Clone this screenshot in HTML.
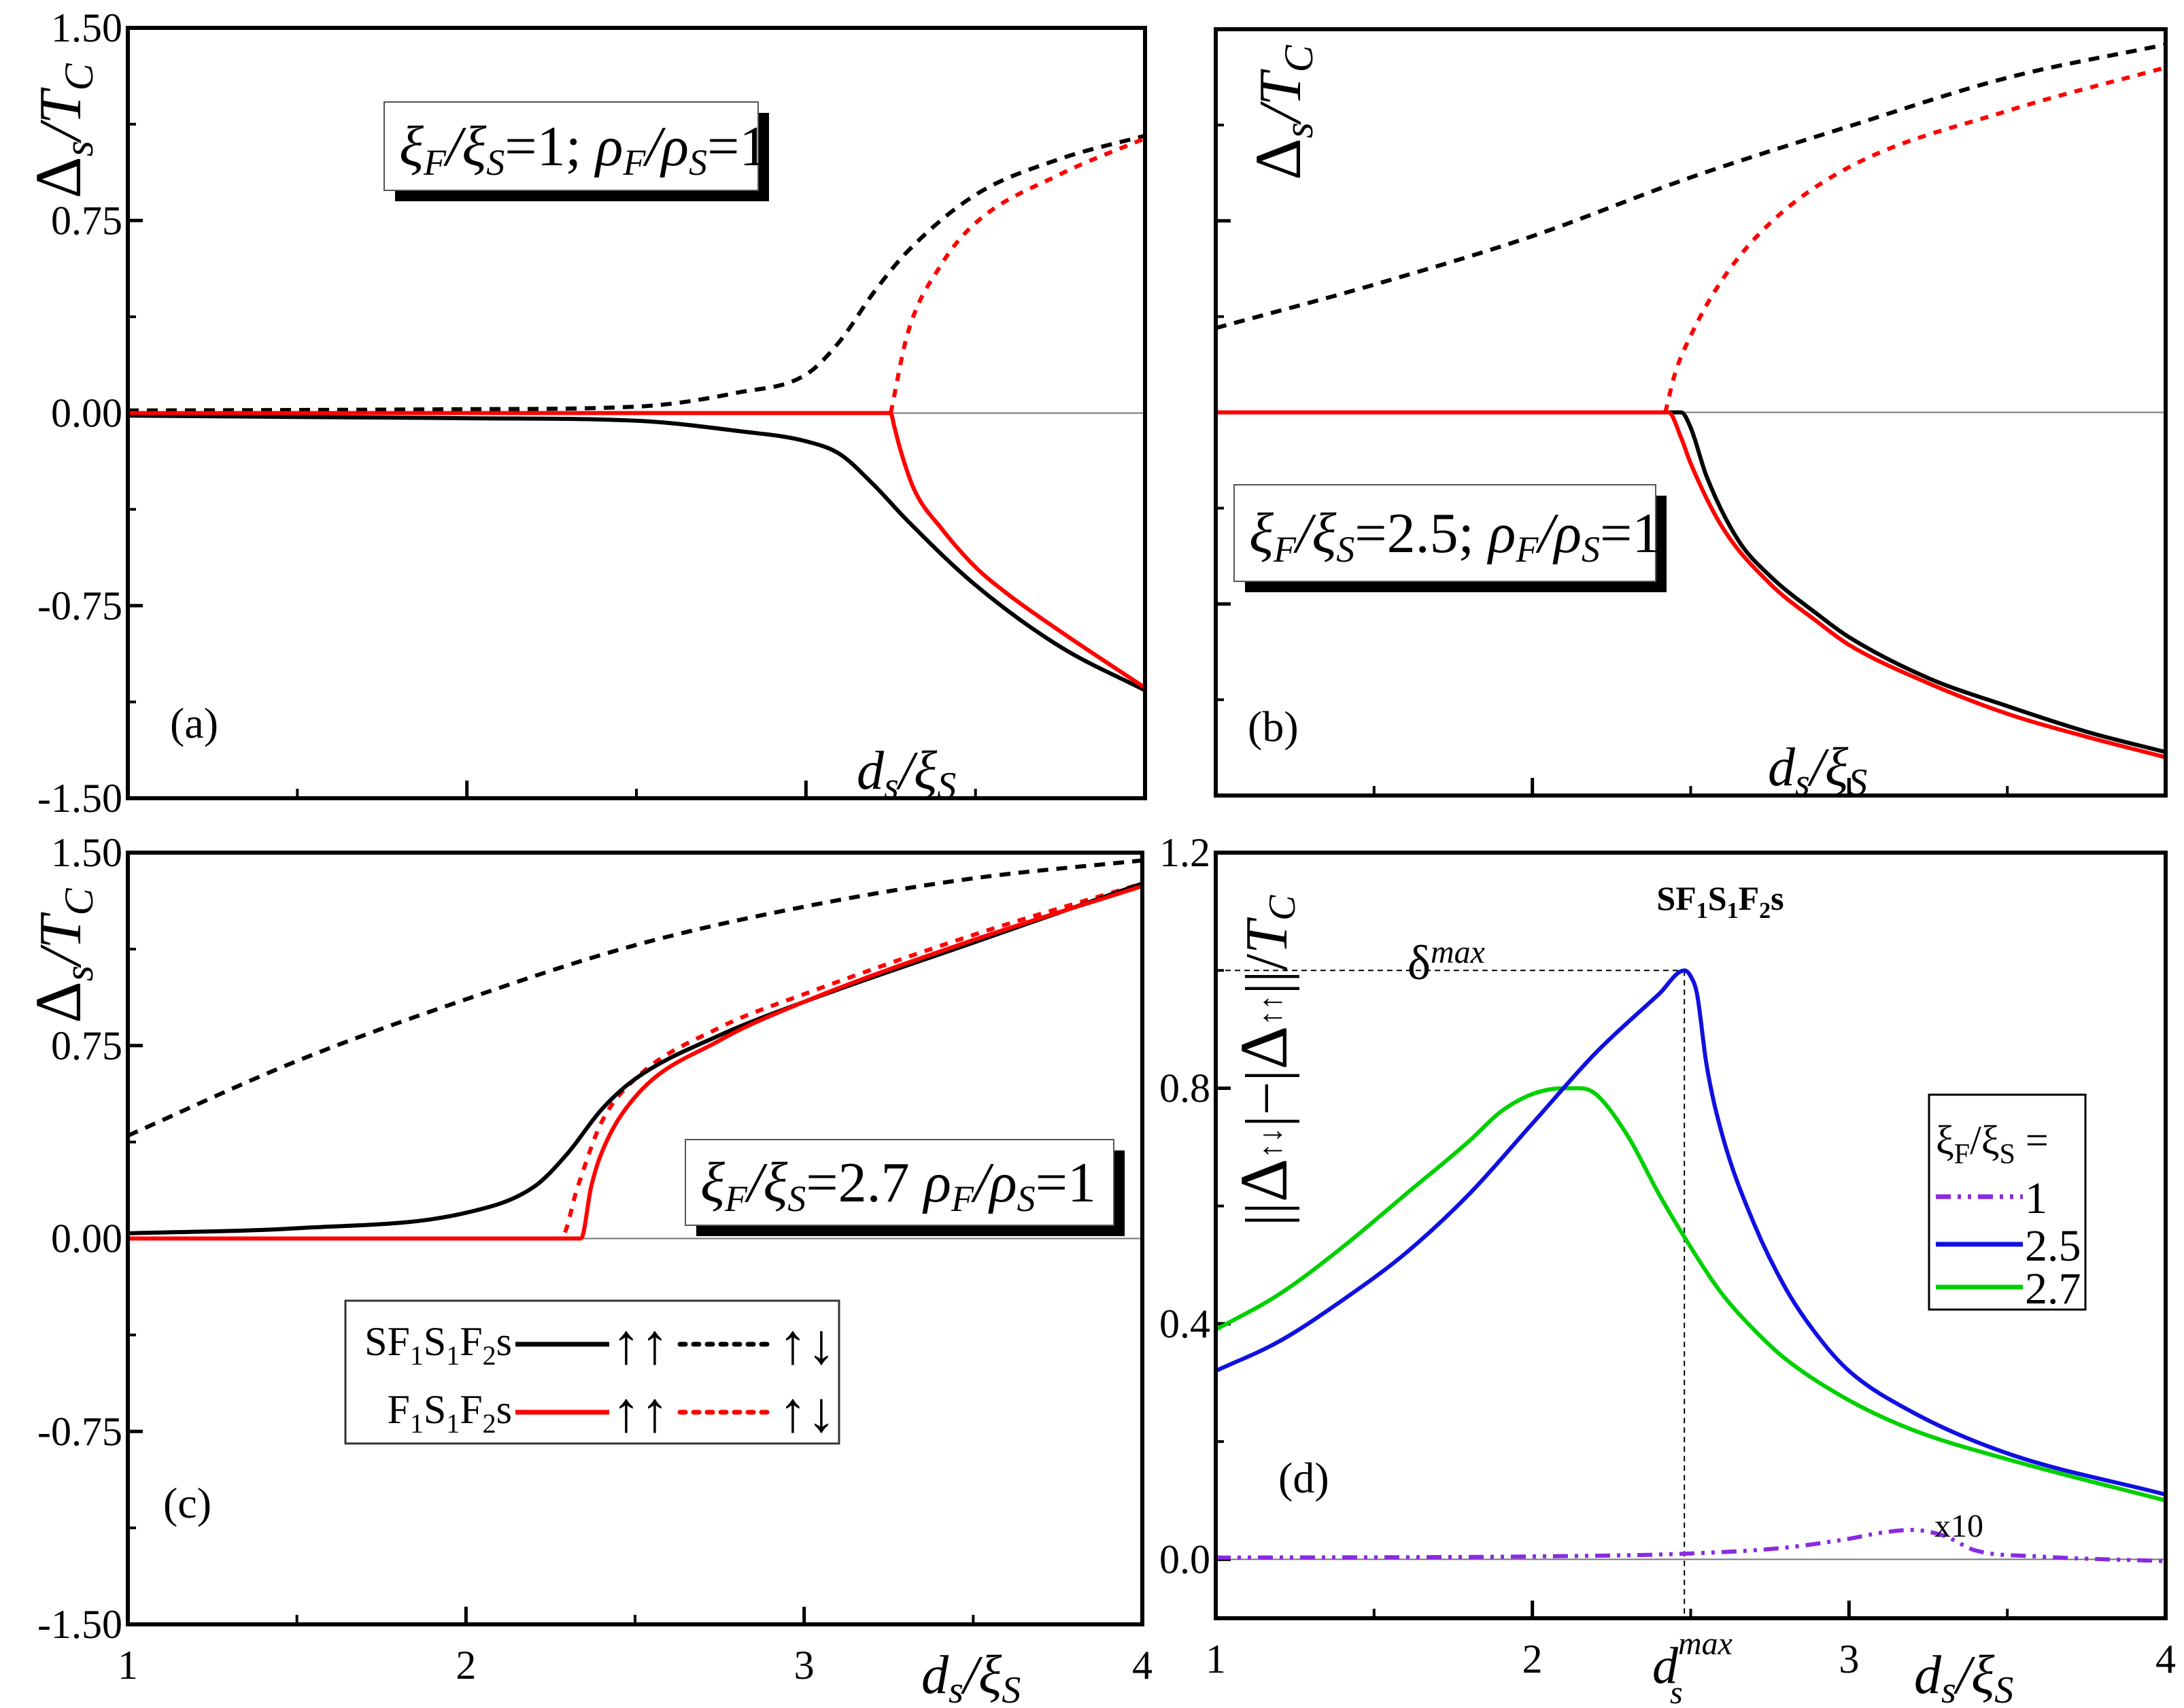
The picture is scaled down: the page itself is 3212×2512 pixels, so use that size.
<!DOCTYPE html>
<html><head><meta charset="utf-8"><style>
html,body{margin:0;padding:0;background:#fff}
svg{display:block}
text{font-family:"Liberation Serif",serif}
</style></head><body>
<svg id="fig" width="3212" height="2512" viewBox="0 0 3212 2512" xmlns="http://www.w3.org/2000/svg">
</svg>
<script>
// ---------- data ----------
const aX_dash_blk=[1,1.5,2,2.5,2.8,3.0,3.1,3.2,3.3,3.5,3.75,4];
const aY_dash_blk=[0.01,0.012,0.015,0.025,0.08,0.15,0.28,0.47,0.63,0.85,0.99,1.08];
const aX_dash_red=[3.25,3.3,3.4,3.5,3.75,4];
const aY_dash_red=[0,0.31,0.58,0.74,0.93,1.07];
const aX_sol_blk=[1,1.5,2,2.5,2.8,3.0,3.1,3.2,3.3,3.5,3.75,4];
const aY_sol_blk=[-0.01,-0.015,-0.02,-0.03,-0.07,-0.11,-0.16,-0.28,-0.42,-0.67,-0.91,-1.08];
const aX_sol_red=[1,3.25,3.26,3.28,3.32,3.4,3.5,3.6,3.75,4];
const aY_sol_red=[0,0,-0.05,-0.15,-0.3,-0.45,-0.6,-0.71,-0.85,-1.07];

const bX_dash_blk=[1,1.5,2,2.5,3,3.5,4];
const bY_dash_blk=[0.33,0.5,0.69,0.92,1.12,1.31,1.44];
const bX_dash_red=[2.42,2.45,2.5,2.6,2.75,3,3.5,4];
const bY_dash_red=[0,0.15,0.3,0.52,0.74,0.96,1.18,1.35];
const bX_sol_blk=[1,2.47,2.5,2.55,2.65,2.75,2.9,3,3.25,3.5,3.75,4];
const bY_sol_blk=[0,0,-0.06,-0.25,-0.5,-0.64,-0.79,-0.88,-1.04,-1.15,-1.25,-1.33];
const bX_sol_red=[1,2.43,2.47,2.5,2.6,2.75,2.9,3,3.25,3.5,3.75,4];
const bY_sol_red=[0,0,-0.1,-0.2,-0.45,-0.67,-0.82,-0.91,-1.06,-1.18,-1.27,-1.35];

const cX_dash_blk=[1,1.5,2,2.5,3,3.5,4];
const cY_dash_blk=[0.4,0.69,0.93,1.14,1.29,1.4,1.47];
const cX_sol_blk=[1,1.5,2,2.2,2.3,2.4,2.5,2.75,3,3.5,4];
const cY_sol_blk=[0.02,0.04,0.1,0.2,0.33,0.5,0.62,0.79,0.92,1.15,1.38];
const cX_dash_red=[1,2.28,2.33,2.4,2.5,2.75,3,3.5,4];
const cY_dash_red=[0,0,0.2,0.45,0.62,0.82,0.95,1.18,1.38];
const cX_sol_red=[1,2.34,2.37,2.4,2.5,2.75,3,3.5,4];
const cY_sol_red=[0,0,0.2,0.33,0.55,0.77,0.92,1.16,1.37];

const dX_blue=[1,1.2,1.4,1.6,1.8,2,2.2,2.4,2.48,2.5,2.52,2.55,2.6,2.7,2.8,2.9,3,3.2,3.5,4];
const dY_blue=[0.32,0.37,0.44,0.52,0.62,0.74,0.86,0.96,1.0,0.99,0.96,0.84,0.72,0.57,0.46,0.38,0.32,0.25,0.18,0.11];
const dX_green=[1,1.2,1.4,1.6,1.8,1.9,2,2.1,2.15,2.2,2.3,2.4,2.5,2.6,2.7,2.8,3,3.2,3.5,4];
const dY_green=[0.39,0.45,0.53,0.62,0.71,0.76,0.79,0.8,0.8,0.79,0.72,0.62,0.53,0.45,0.39,0.34,0.27,0.22,0.17,0.10];
const dX_purple=[1,2,2.5,2.8,3,3.1,3.2,3.3,3.4,3.6,4];
const dY_purple=[0.003,0.005,0.01,0.02,0.035,0.045,0.05,0.04,0.015,0.005,-0.003];
const dPeakX=[2.48];
const dPeakY=[1.0];

const ticksA=["1.50","0.75","0.00","-0.75","-1.50"];
const ticksAval=[1.5,0.75,0,-0.75,-1.5];
const ticksD=["1.2","0.8","0.4","0.0"];
const ticksDval=[1.2,0.8,0.4,0];
const ticksX=["1","2","3","4"];
const ticksXval=[1,2,3,4];

// ---------- helpers ----------
const NS="http://www.w3.org/2000/svg";
const svg=document.getElementById('fig');
function mk(tag,attrs,parent){const e=document.createElementNS(NS,tag);for(const k in attrs)e.setAttribute(k,attrs[k]);(parent||svg).appendChild(e);return e;}
function panel(x0,x1,y0,y1,ymin,ymax){return {x0,x1,y0,y1,sx:v=>x0+(v-1)/3*(x1-x0),sy:v=>y1-(v-ymin)/(ymax-ymin)*(y1-y0)};}
function monoPath(X,Y){
  const n=X.length; if(n<3) return X.map((x,i)=>(i?'L':'M')+x.toFixed(1)+','+Y[i].toFixed(1)).join(' ');
  const d=[],m=new Array(n);
  for(let i=0;i<n-1;i++)d.push((Y[i+1]-Y[i])/(X[i+1]-X[i]));
  m[0]=d[0];m[n-1]=d[n-2];
  for(let i=1;i<n-1;i++){ if(d[i-1]*d[i]<=0)m[i]=0; else m[i]=(d[i-1]+d[i])/2; }
  for(let i=0;i<n-1;i++){
    if(d[i]===0){m[i]=0;m[i+1]=0;continue;}
    const a=m[i]/d[i],b=m[i+1]/d[i],s=a*a+b*b;
    if(s>9){const t=3/Math.sqrt(s);m[i]=t*a*d[i];m[i+1]=t*b*d[i];}
  }
  let p='M'+X[0].toFixed(1)+','+Y[0].toFixed(1);
  for(let i=0;i<n-1;i++){
    const h=X[i+1]-X[i];
    p+=' C'+(X[i]+h/3).toFixed(1)+','+(Y[i]+m[i]*h/3).toFixed(1)+' '+(X[i+1]-h/3).toFixed(1)+','+(Y[i+1]-m[i+1]*h/3).toFixed(1)+' '+X[i+1].toFixed(1)+','+Y[i+1].toFixed(1);
  }
  return p;
}
function line(p,xs,ys,color,dash,name,w){
  const d=monoPath(xs.map(p.sx),ys.map(p.sy));
  const e=mk('path',{d,fill:'none',stroke:color,'stroke-width':w||6,'stroke-linejoin':'round'});
  if(dash)e.setAttribute('stroke-dasharray',dash);
  
  
  return e;
}
function txt(x,y,s,size,extra,name){
  const e=mk('text',Object.assign({x,y,'font-size':size},extra||{}));
  e.innerHTML=s;
  
  
  return e;
}
function frame(p,name){
  const e=mk('rect',{x:p.x0,y:p.y0,width:p.x1-p.x0,height:p.y1-p.y0,fill:'none',stroke:'#000','stroke-width':6});
  
  
}
function zero(p,name){
  const e=mk('line',{x1:p.x0,x2:p.x1,y1:p.sy(0),y2:p.sy(0),stroke:'#777','stroke-width':2});
  
  
}
function yticks(p,vals,labels,name){
  vals.forEach((v,i)=>{
    const t=mk('line',{x1:p.x0,x2:p.x0+22,y1:p.sy(v),y2:p.sy(v),stroke:'#000','stroke-width':5});
    
    
    if(labels){txt(p.x0-8,p.sy(v)+20,labels[i],60,{'text-anchor':'end'},name+'-label');}
  });
  for(let i=0;i<vals.length-1;i++){
    const m=(vals[i]+vals[i+1])/2;
    const t=mk('line',{x1:p.x0,x2:p.x0+12,y1:p.sy(m),y2:p.sy(m),stroke:'#000','stroke-width':4});
    
    
  }
}
function xticks(p,labels,name){
  ticksXval.forEach((v,i)=>{
    const t=mk('line',{x1:p.sx(v),x2:p.sx(v),y1:p.y1,y2:p.y1-26,stroke:'#000','stroke-width':5});
    
    
    if(labels) txt(p.sx(v),p.y1+80,labels[i],60,{'text-anchor':'middle'},name+'-label');
  });
  for(let v=1.5;v<4;v+=1){
    const t=mk('line',{x1:p.sx(v),x2:p.sx(v),y1:p.y1,y2:p.y1-14,stroke:'#000','stroke-width':4});
    
    
  }
}
function shadowBox(x,y,w,h,html,name){
  const s=mk('rect',{x:x+16,y:y+16,width:w,height:h,fill:'#000'});
  
  
  const b=mk('rect',{x,y,width:w,height:h,fill:'#fff',stroke:'#555','stroke-width':2});
  
  
  txt(x+22,y+h/2+28,html,84,{'font-style':'italic'},name+'-text');
}
const dash='16,12';
const dashRed='12,12';
const ylab='<tspan font-size="96" font-style="normal">Δ</tspan><tspan font-size="60" dy="18">s</tspan><tspan dy="-18" font-size="88">/T</tspan><tspan font-size="60" dy="18">C</tspan>';
const xlab='<tspan>d</tspan><tspan font-size="56" dy="14">s</tspan><tspan dy="-14">/ξ</tspan><tspan font-size="56" dy="14">S</tspan>';

// ---------- panel a ----------
const pa=panel(188,1684,41,1174,-1.5,1.5);
zero(pa,'zero-line-a');
yticks(pa,ticksAval,ticksA,'y-axis-a');
xticks(pa,null,'x-axis-a');
line(pa,aX_dash_blk,aY_dash_blk,'#000',dash,'sfsfs-antiparallel-a');
line(pa,aX_dash_red,aY_dash_red,'#f00',dashRed,'fsfs-antiparallel-a');
line(pa,aX_sol_blk,aY_sol_blk,'#000',null,'sfsfs-parallel-a');
line(pa,aX_sol_red,aY_sol_red,'#f00',null,'fsfs-parallel-a');
frame(pa,'frame-a');
shadowBox(565,150,550,130,'ξ<tspan font-size="54" dy="14">F</tspan><tspan dy="-14">/ξ</tspan><tspan font-size="54" dy="14">S</tspan><tspan dy="-14" font-style="normal">=1;  </tspan>ρ<tspan font-size="54" dy="14">F</tspan><tspan dy="-14">/ρ</tspan><tspan font-size="54" dy="14">S</tspan><tspan dy="-14" font-style="normal">=1</tspan>','param-box-a');
txt(250,1085,'(a)',64,{},'panel-label-a');
txt(1260,1160,xlab,80,{'font-style':'italic'},'x-axis-title-a');
txt(0,0,ylab,88,{'font-style':'italic',transform:'translate(118,292) rotate(-90)'},'y-axis-title-a');

// ---------- panel b ----------
const pb=panel(1788,3185,43,1170,-1.5,1.5);
zero(pb,'zero-line-b');
yticks(pb,ticksAval,null,'y-axis-b');
xticks(pb,null,'x-axis-b');
line(pb,bX_dash_blk,bY_dash_blk,'#000',dash,'sfsfs-antiparallel-b');
line(pb,bX_dash_red,bY_dash_red,'#f00',dashRed,'fsfs-antiparallel-b');
line(pb,bX_sol_blk,bY_sol_blk,'#000',null,'sfsfs-parallel-b');
line(pb,bX_sol_red,bY_sol_red,'#f00',null,'fsfs-parallel-b');
frame(pb,'frame-b');
shadowBox(1815,713,620,142,'ξ<tspan font-size="54" dy="14">F</tspan><tspan dy="-14">/ξ</tspan><tspan font-size="54" dy="14">S</tspan><tspan dy="-14" font-style="normal">=2.5;  </tspan>ρ<tspan font-size="54" dy="14">F</tspan><tspan dy="-14">/ρ</tspan><tspan font-size="54" dy="14">S</tspan><tspan dy="-14" font-style="normal">=1</tspan>','param-box-b');
txt(1835,1090,'(b)',64,{},'panel-label-b');
txt(2600,1155,xlab,80,{'font-style':'italic'},'x-axis-title-b');
txt(0,0,ylab,88,{'font-style':'italic',transform:'translate(1912,265) rotate(-90)'},'y-axis-title-b');

// ---------- panel c ----------
const pc=panel(188,1680,1254,2389,-1.5,1.5);
zero(pc,'zero-line-c');
yticks(pc,ticksAval,ticksA,'y-axis-c');
xticks(pc,ticksX,'x-axis-c');
line(pc,cX_dash_blk,cY_dash_blk,'#000',dash,'sfsfs-antiparallel-c');
line(pc,cX_dash_red,cY_dash_red,'#f00',dashRed,'fsfs-antiparallel-c');
line(pc,cX_sol_blk,cY_sol_blk,'#000',null,'sfsfs-parallel-c');
line(pc,cX_sol_red,cY_sol_red,'#f00',null,'fsfs-parallel-c');
frame(pc,'frame-c');
shadowBox(1008,1676,630,126,'ξ<tspan font-size="54" dy="14">F</tspan><tspan dy="-14">/ξ</tspan><tspan font-size="54" dy="14">S</tspan><tspan dy="-14" font-style="normal">=2.7   </tspan>ρ<tspan font-size="54" dy="14">F</tspan><tspan dy="-14">/ρ</tspan><tspan font-size="54" dy="14">S</tspan><tspan dy="-14" font-style="normal">=1</tspan>','param-box-c');
txt(240,2232,'(c)',64,{},'panel-label-c');
txt(1355,2490,xlab,80,{'font-style':'italic'},'x-axis-title-c');
txt(0,0,ylab,88,{'font-style':'italic',transform:'translate(118,1505) rotate(-90)'},'y-axis-title-c');
// legend c
{
  const r=mk('rect',{x:508,y:1913,width:726,height:210,fill:'#fff',stroke:'#333','stroke-width':3});
  
  
  txt(753,1993,'SF<tspan font-size="40" dy="14">1</tspan><tspan dy="-14">S</tspan><tspan font-size="40" dy="14">1</tspan><tspan dy="-14">F</tspan><tspan font-size="40" dy="14">2</tspan><tspan dy="-14">s</tspan>',60,{'text-anchor':'end'},'legend-label-sfsfs');
  txt(753,2093,'F<tspan font-size="40" dy="14">1</tspan><tspan dy="-14">S</tspan><tspan font-size="40" dy="14">1</tspan><tspan dy="-14">F</tspan><tspan font-size="40" dy="14">2</tspan><tspan dy="-14">s</tspan>',60,{'text-anchor':'end'},'legend-label-fsfs');
  [[1977,'#000'],[2077,'#f00']].forEach(([y,c],i)=>{
    const l1=mk('line',{x1:758,x2:896,y1:y,y2:y,stroke:c,'stroke-width':7});
    
    
    txt(900,y+28,'↑↑',84,{},'legend-parallel-'+i);
    const l2=mk('line',{x1:1000,x2:1138,y1:y,y2:y,stroke:c,'stroke-width':7,'stroke-dasharray':'8,12','stroke-linecap':'round'});
    
    
    txt(1145,y+28,'↑↓',84,{},'legend-antiparallel-'+i);
  });
}

// ---------- panel d ----------
const pd=panel(1788,3185,1254,2380,-0.1,1.2);
zero(pd,'zero-line-d');
yticks(pd,ticksDval,ticksD,'y-axis-d');
xticks(pd,ticksX,'x-axis-d');
{
  const gx=pd.sx(dPeakX[0]), gy=pd.sy(dPeakY[0]);
  const h=mk('line',{x1:pd.x0,x2:gx,y1:gy,y2:gy,stroke:'#000','stroke-width':2,'stroke-dasharray':'8,6'});
  
  
  const v=mk('line',{x1:gx,x2:gx,y1:gy,y2:pd.y1,stroke:'#000','stroke-width':2,'stroke-dasharray':'8,6'});
  
  
}
line(pd,dX_green,dY_green,'#00d000',null,'series-2.7');
line(pd,dX_blue,dY_blue,'#1010e0',null,'series-2.5');
line(pd,dX_purple,dY_purple,'#8a2be2','22,10,5,10,5,10','series-1');
frame(pd,'frame-d');
txt(2530,1338,'SF<tspan font-size="34" dy="12">1</tspan><tspan dy="-12">S</tspan><tspan font-size="34" dy="12">1</tspan><tspan dy="-12">F</tspan><tspan font-size="34" dy="12">2</tspan><tspan dy="-12">s</tspan>',50,{'text-anchor':'middle','font-weight':'bold'},'panel-title-d');
txt(2070,1440,'δ<tspan font-size="48" font-style="italic" dy="-24">max</tspan>',72,{},'delta-max-label');
txt(2430,2475,'<tspan font-style="italic">d</tspan><tspan font-size="48" font-style="italic" dy="-42">max</tspan><tspan font-size="48" font-style="italic" dx="-92" dy="72">s</tspan>',76,{},'ds-max-label');
txt(2845,2260,'x10',48,{},'x10-annotation');
txt(1880,2195,'(d)',64,{},'panel-label-d');
txt(2815,2490,xlab,80,{'font-style':'italic'},'x-axis-title-d');
txt(0,0,'||<tspan font-size="100">Δ</tspan><tspan font-size="46" dy="-8">↑↓</tspan><tspan dy="8">|−|</tspan><tspan font-size="100">Δ</tspan><tspan font-size="46" dy="-8">↑↑</tspan><tspan dy="8">||/</tspan><tspan font-style="italic">T</tspan><tspan font-size="56" font-style="italic" dy="12">C</tspan>',88,{'text-anchor':'middle',transform:'translate(1892,1560) rotate(-90)'},'y-axis-title-d');
// legend d
{
  const r=mk('rect',{x:2837,y:1610,width:230,height:316,fill:'#fff',stroke:'#000','stroke-width':3});
  
  
  txt(2847,1697,'ξ<tspan font-size="42" dy="14">F</tspan><tspan dy="-14">/ξ</tspan><tspan font-size="42" dy="14">S</tspan><tspan dy="-14"> =</tspan>',60,{},'legend-title-d');
  const rows=[['1','#8a2be2','22,10,5,10,5,10',1760],['2.5','#1010e0',null,1830],['2.7','#00d000',null,1893]];
  rows.forEach(([lab,c,da,y])=>{
    const l=mk('line',{x1:2847,x2:2975,y1:y,y2:y,stroke:c,'stroke-width':7});
    if(da)l.setAttribute('stroke-dasharray',da);
    
    
    txt(2978,y+24,lab,66,{},'legend-label-'+lab);
  });
}
</script>
</body></html>
